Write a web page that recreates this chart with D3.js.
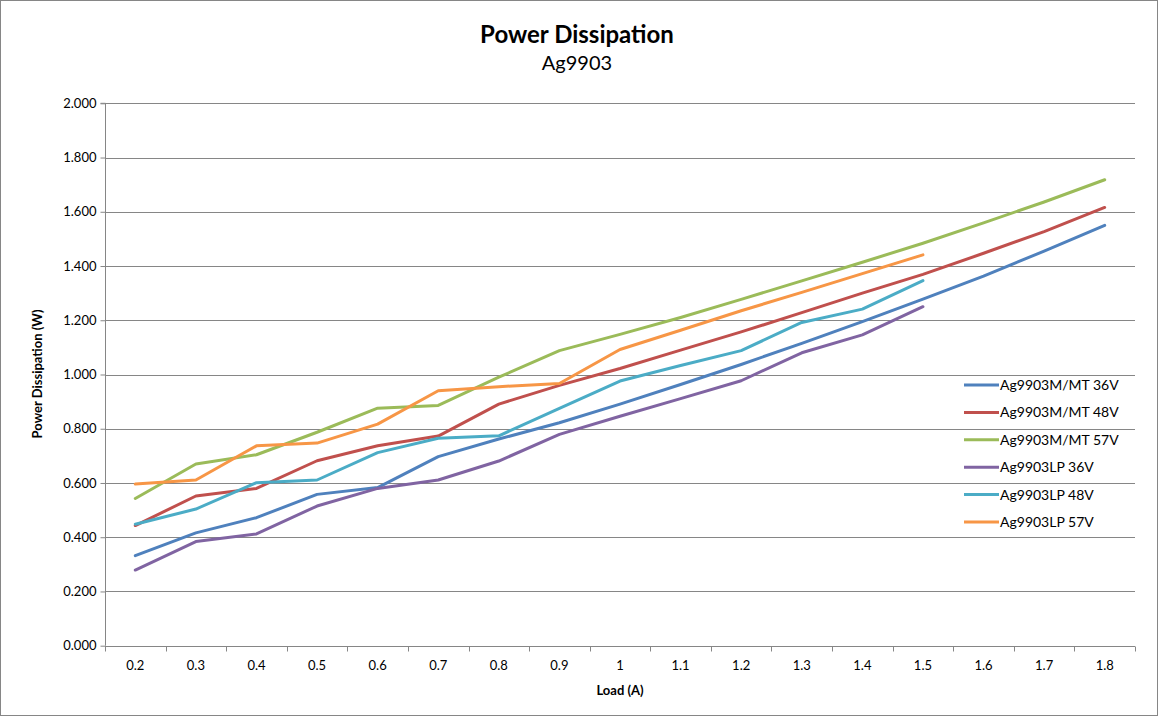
<!DOCTYPE html>
<html><head><meta charset="utf-8">
<script src="https://cdn.jsdelivr.net/npm/d3@7"></script>
<style>body{margin:0;background:#fff}svg{display:block;font-family:Lato,"Open Sans",sans-serif}</style>
</head><body><svg id="c" width="1159" height="717"></svg>
<script>
const categories = ["0.2","0.3","0.4","0.5","0.6","0.7","0.8","0.9","1","1.1","1.2","1.3","1.4","1.5","1.6","1.7","1.8"];
const seriesNames = ["Ag9903M/MT 36V","Ag9903M/MT 48V","Ag9903M/MT 57V","Ag9903LP 36V","Ag9903LP 48V","Ag9903LP 57V"];
const mmt36 = [0.332,0.416,0.472,0.558,0.583,0.697,0.762,0.822,0.891,0.963,1.037,1.115,1.195,1.278,1.363,1.455,1.550];
const mmt48 = [0.443,0.552,0.580,0.682,0.737,0.773,0.891,0.960,1.022,1.090,1.157,1.228,1.300,1.369,1.447,1.527,1.616];
const mmt57 = [0.543,0.670,0.704,0.787,0.876,0.886,0.990,1.088,1.148,1.210,1.277,1.345,1.414,1.484,1.559,1.636,1.718];
const lp36 = [0.279,0.384,0.412,0.515,0.580,0.611,0.681,0.779,0.846,0.911,0.977,1.080,1.146,1.250];
const lp48 = [0.448,0.504,0.601,0.611,0.712,0.765,0.774,0.875,0.976,1.033,1.088,1.192,1.241,1.346];
const lp57 = [0.596,0.611,0.737,0.747,0.817,0.940,0.955,0.967,1.092,1.163,1.235,1.303,1.372,1.441];
const yTicks = [0,0.2,0.4,0.6,0.8,1.0,1.2,1.4,1.6,1.8,2.0];
const colors = ["#4F81BD","#C0504D","#9BBB59","#8064A2","#4BACC6","#F79646"];
const allSeries = [mmt36,mmt48,mmt57,lp36,lp48,lp57];

const svg = d3.select("#c");
svg.append("rect").attr("x",0.5).attr("y",0.5).attr("width",1157).attr("height",715).attr("fill","#fff").attr("stroke","#868686");

const L=105, R=1135, T=103.3, B=645.7;
const x = d3.scaleBand().domain(categories).range([L,R]).padding(0);
const y = d3.scaleLinear().domain([0,2]).range([B,T]);

// gridlines
svg.append("g").selectAll("line").data(yTicks.filter(d=>d>0)).join("line")
  .attr("x1",L).attr("x2",R).attr("y1",d=>Math.round(y(d))+0.5).attr("y2",d=>Math.round(y(d))+0.5)
  .attr("stroke","#868686").attr("stroke-width",1);

// y axis
const ya = svg.append("g").attr("transform",`translate(${L+0.5},0)`)
  .call(d3.axisLeft(y).tickValues(yTicks).tickFormat(d3.format(".3f")).tickSize(5).tickPadding(4));
ya.select(".domain").attr("stroke","#868686").attr("d",`M-5,${T}H0V${B}`);
ya.selectAll(".tick line").attr("stroke","#868686");
ya.selectAll(".tick text").attr("font-size",13).attr("fill","#000").attr("font-family","Lato");

// x axis
const xa = svg.append("g").attr("transform",`translate(0,${Math.round(B)+0.5})`)
  .call(d3.axisBottom(x).tickSize(0).tickPadding(14));
xa.select(".domain").attr("stroke","#868686").attr("d",`M${L},0H${R}`);
xa.selectAll(".tick text").attr("font-size",13).attr("fill","#000").attr("font-family","Lato");
// x tick marks at category boundaries
xa.append("g").selectAll("line").data(d3.range(categories.length+1)).join("line")
  .attr("x1",i=>Math.round(L+i*x.bandwidth())+0.5).attr("x2",i=>Math.round(L+i*x.bandwidth())+0.5)
  .attr("y1",0).attr("y2",5).attr("stroke","#868686");

// lines
const line = d3.line().x((d,i)=>x(categories[i])+x.bandwidth()/2).y(d=>y(d));
svg.append("g").selectAll("path").data(allSeries).join("path")
  .attr("d",d=>line(d)).attr("fill","none").attr("stroke",(d,i)=>colors[i])
  .attr("stroke-width",3).attr("stroke-linejoin","round").attr("stroke-linecap","round");

// titles
svg.append("text").attr("x",577).attr("y",43).attr("text-anchor","middle").attr("font-size",24).attr("font-weight","bold").text("Power Dissipation");
svg.append("text").attr("x",577).attr("y",70).attr("text-anchor","middle").attr("font-size",20).text("Ag9903");
svg.append("text").attr("transform","translate(42,374) rotate(-90)").attr("text-anchor","middle").attr("font-size",13).attr("font-weight","bold").text("Power Dissipation (W)");
svg.append("text").attr("x",620).attr("y",695).attr("text-anchor","middle").attr("font-size",13).attr("font-weight","bold").text("Load (A)");

// legend
const lg = svg.append("g").selectAll("g").data(seriesNames).join("g")
  .attr("transform",(d,i)=>`translate(964,${385+i*27.4})`);
lg.append("line").attr("x1",0).attr("x2",35).attr("y1",0).attr("y2",0).attr("stroke",(d,i)=>colors[i]).attr("stroke-width",3);
lg.append("text").attr("x",36).attr("y",5).attr("font-size",14).text(d=>d);
</script></body></html>
